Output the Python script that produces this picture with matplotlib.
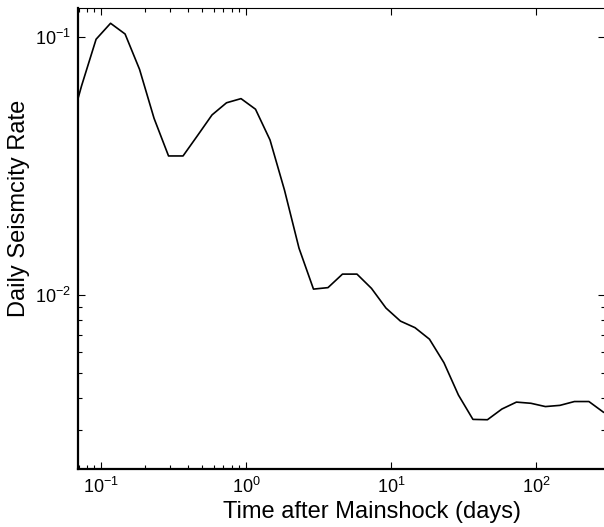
import matplotlib
matplotlib.use("Agg")
import matplotlib.pyplot as plt
from matplotlib.ticker import FixedLocator, LogFormatterSciNotation, NullFormatter

plt.rcParams["font.family"] = ["Liberation Sans", "DejaVu Sans"]
plt.rcParams["mathtext.fontset"] = "custom"
plt.rcParams["mathtext.rm"] = "Liberation Sans"
plt.rcParams["mathtext.it"] = "Liberation Sans:italic"
plt.rcParams["mathtext.bf"] = "Liberation Sans:bold"

#################################################
# Daily rate vs. time after the mainshock
days = [0.0583, 0.0734, 0.0925, 0.1164, 0.1466, 0.1845, 0.2323, 0.2924,
        0.3681, 0.4634, 0.5834, 0.7345, 0.9247, 1.164, 1.466, 1.845,
        2.323, 2.924, 3.681, 4.634, 5.834, 7.345, 9.247, 11.64, 14.66,
        18.45, 23.23, 29.24, 36.81, 46.34, 58.34, 73.45, 92.47, 116.4,
        146.6, 184.5, 232.3, 292.4]
rate = [0.0406, 0.0646, 0.0980, 0.1130, 0.1027, 0.0749, 0.0484, 0.0346,
        0.0346, 0.0415, 0.0499, 0.0556, 0.0577, 0.0525, 0.0399, 0.0255,
        0.0152, 0.01055, 0.01069, 0.01206, 0.01206, 0.01062, 0.00891,
        0.00793, 0.00748, 0.00675, 0.00547, 0.00410, 0.00330, 0.00329,
        0.00362, 0.00385, 0.00381, 0.00370, 0.00374, 0.00387, 0.00387,
        0.00352]

x_major = [0.1, 1, 10, 100]
x_minor = [0.07, 0.08, 0.09, 0.2, 0.3, 0.4, 0.5, 0.6, 0.7, 0.8, 0.9]
y_major = [0.01, 0.1]
y_minor = [0.003, 0.004, 0.005, 0.006, 0.007, 0.008, 0.009]

fig = plt.figure(figsize=(6.04, 5.27), dpi=100)
ax = fig.add_axes([78 / 604, 1 - 469 / 527, 527 / 604, 461 / 527])

ax.plot(days, rate, "-k", linewidth=1.2)
ax.set_xscale("log")
ax.set_yscale("log")
ax.set_xlim(0.0694, 300)
ax.set_ylim(0.00212, 0.1295)

ax.xaxis.set_major_locator(FixedLocator(x_major))
ax.xaxis.set_minor_locator(FixedLocator(x_minor))
ax.yaxis.set_major_locator(FixedLocator(y_major))
ax.yaxis.set_minor_locator(FixedLocator(y_minor))
ax.xaxis.set_major_formatter(LogFormatterSciNotation())
ax.yaxis.set_major_formatter(LogFormatterSciNotation())
ax.xaxis.set_minor_formatter(NullFormatter())
ax.yaxis.set_minor_formatter(NullFormatter())

ax.tick_params(which="both", direction="in", top=True, right=True,
               labelsize=13, width=0.8)
ax.tick_params(which="major", length=5)
ax.tick_params(which="minor", length=3)
ax.tick_params(axis="x", pad=6)
ax.tick_params(axis="y", pad=5)

ax.spines["left"].set_linewidth(1.6)
ax.spines["bottom"].set_linewidth(1.6)
ax.spines["top"].set_linewidth(0.8)
ax.spines["right"].set_linewidth(0.8)

ax.set_xlabel("Time after Mainshock (days)", fontsize=17)
ax.set_ylabel("Daily Seismcity Rate", fontsize=17)
ax.xaxis.set_label_coords(0.558, -0.069)
ax.yaxis.set_label_coords(-0.092, 0.566)

fig.savefig("out.png", dpi=100)
